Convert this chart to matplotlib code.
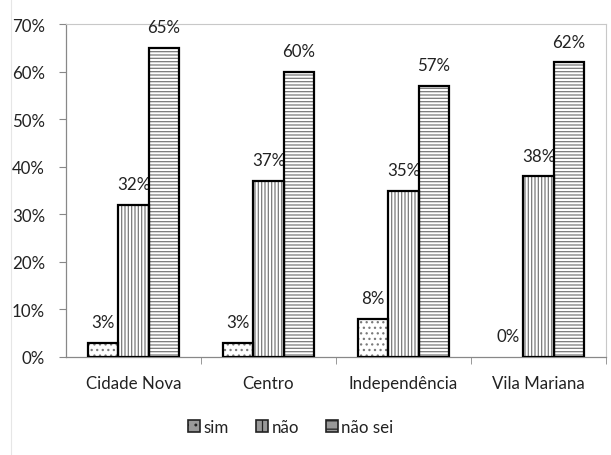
import matplotlib
matplotlib.use("Agg")
import matplotlib.pyplot as plt
from matplotlib.patches import Patch
from matplotlib.ticker import FuncFormatter, FixedLocator
import numpy as np

plt.rcParams['font.family'] = ['Lato', 'DejaVu Sans']
plt.rcParams['hatch.linewidth'] = 0.9

categories = ["Cidade Nova", "Centro", "Independência", "Vila Mariana"]
series_names = ["sim", "não", "não sei"]
sim = [3, 3, 8, 0]
nao = [32, 37, 35, 38]
nao_sei = [65, 60, 57, 62]
series_values = [sim, nao, nao_sei]
hatches = ["...", "|||||", "-----"]
y_ticks = [0, 10, 20, 30, 40, 50, 60, 70]

FS = 12.2
TXT = '#222222'

fig = plt.figure(figsize=(6.11, 4.56), dpi=100)
ax = fig.add_axes([66/611, (456-358)/456, (606-66)/611, (358-25)/456])

x = np.arange(len(categories))
w = 0.226
offsets = [-w, 0, w]
for vals, off, h in zip(series_values, offsets, hatches):
    for xi, v in zip(x + off, vals):
        if v > 0:
            ax.bar(xi, v, w, color='white', edgecolor='#7a7a7a', hatch=h, linewidth=0, zorder=2)
            ax.bar(xi, v, w, fill=False, edgecolor='black', linewidth=1.6, zorder=3)
        ax.annotate(f"{v}%", (xi, v), xytext=(0, 9), textcoords='offset points',
                    ha='center', va='bottom', fontsize=FS, color=TXT)

ax.set_xlim(-0.5, 3.5)
ax.set_ylim(0, 70)
ax.set_yticks(y_ticks)
ax.yaxis.set_major_formatter(FuncFormatter(lambda v, p: f"{int(v)}%"))
ax.set_xticks(x)
ax.set_xticklabels(categories)
ax.xaxis.set_minor_locator(FixedLocator([0.5, 1.5, 2.5, 3.5]))
ax.tick_params(axis='x', which='major', length=0, pad=13, labelsize=FS, labelcolor=TXT)
ax.tick_params(axis='x', which='minor', length=5, color='#888888', direction='out')
ax.tick_params(axis='y', length=5, color='#888888', labelsize=FS, labelcolor=TXT, pad=10)

for s in ['top', 'right']:
    ax.spines[s].set_color('#c8c8c8')
    ax.spines[s].set_linewidth(0.8)
for s in ['left', 'bottom']:
    ax.spines[s].set_color('#888888')
    ax.spines[s].set_linewidth(0.9)

handles = [Patch(facecolor='#999999', edgecolor='#222222', hatch=h, linewidth=1.2) for h in ["..", "||", "--"]]
leg = fig.legend(handles, series_names, loc='center', bbox_to_anchor=(291/611, 1 - 428/456),
                 ncol=3, frameon=False, fontsize=FS, handlelength=0.7, handleheight=0.7,
                 handletextpad=0.2, columnspacing=1.6)
for t in leg.get_texts():
    t.set_color(TXT)

fig.patches.append(plt.Line2D([11/611, 11/611], [0, 1], transform=fig.transFigure, color='#e6e6e6', lw=0.8))

fig.savefig("out.png", dpi=100)
